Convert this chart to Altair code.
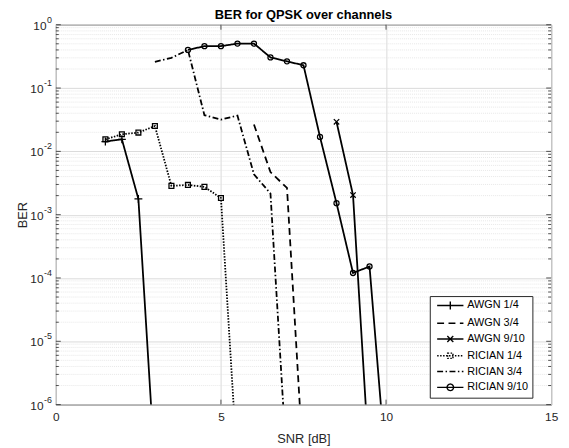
import math
import altair as alt
import pandas as pd

# ---------------- data ----------------
series_names = ["AWGN 1/4", "AWGN 3/4", "AWGN 9/10", "RICIAN 1/4", "RICIAN 3/4", "RICIAN 9/10"]

awgn14_snr = [1.5, 2.0, 2.5, 3.0]
awgn14_ber = [0.0143, 0.0155, 0.00177, 1e-7]

awgn34_snr = [6.0, 6.5, 7.0, 7.5]
awgn34_ber = [0.0266, 0.0047, 0.00265, 1e-7]

awgn910_snr = [8.5, 9.0, 9.5]
awgn910_ber = [0.0293, 0.00204, 1e-7]

rician14_snr = [1.5, 2.0, 2.5, 3.0, 3.5, 4.0, 4.5, 5.0, 5.5]
rician14_ber = [0.0155, 0.0186, 0.0198, 0.0251, 0.00285, 0.00295, 0.00275, 0.00183, 1e-7]

rician34_snr = [3.0, 3.5, 4.0, 4.5, 5.0, 5.5, 6.0, 6.5, 7.0]
rician34_ber = [0.26, 0.30, 0.40, 0.0373, 0.0318, 0.0367, 0.00434, 0.00216, 1e-7]

rician910_snr = [4.0, 4.5, 5.0, 5.5, 6.0, 6.5, 7.0, 7.5, 8.0, 8.5, 9.0, 9.5, 10.0]
rician910_ber = [0.40, 0.459, 0.459, 0.504, 0.504, 0.305, 0.264, 0.229, 0.0169, 0.00152, 1.2e-4, 1.52e-4, 1e-7]

x_ticks = [0, 5, 10, 15]
y_ticks = [1, 1e-1, 1e-2, 1e-3, 1e-4, 1e-5, 1e-6]
y_exponents = ["0", "-1", "-2", "-3", "-4", "-5", "-6"]
y_minor = [k * 10.0 ** d for d in range(-6, 0) for k in range(2, 10)]
x_inner_ticks = [5, 10]

# ---------------- styles ----------------
W, H = 502, 385
FONT = "Liberation Sans"
AX = "#262626"

dash_range = [[1, 0], [7, 4.5], [1, 0], [1.5, 1.5], [6, 2.5, 1.5, 2.5], [1, 0]]


def f(v):
    return f"{v:.2f}"


# legend symbols: line sample + marker (custom paths, 3 px per path unit at size 36)
L0, L1, C = -0.67, 8.2, 3.77
line_path = f"M{f(L0)},0L{f(L1)},0"
circ = "M" + "L".join(
    f"{f(C + 1.1 * math.cos(2 * math.pi * i / 16))},{f(1.1 * math.sin(2 * math.pi * i / 16))}" for i in range(16)
) + "Z"
legend_paths = [
    line_path + f"M{f(C)},-1.33L{f(C)},1.33",
    line_path,
    line_path + f"M{f(C-1)},-1L{f(C+1)},1M{f(C-1)},1L{f(C+1)},-1",
    line_path + f"M{f(C-0.9)},-0.9L{f(C+0.9)},-0.9L{f(C+0.9)},0.9L{f(C-0.9)},0.9Z",
    line_path,
    line_path + circ,
]

frames = []
for name, xs, ys in zip(
    series_names,
    [awgn14_snr, awgn34_snr, awgn910_snr, rician14_snr, rician34_snr, rician910_snr],
    [awgn14_ber, awgn34_ber, awgn910_ber, rician14_ber, rician34_ber, rician910_ber],
):
    frames.append(pd.DataFrame({"series": name, "snr": xs, "ber": ys}))
df = pd.concat(frames, ignore_index=True)

xscale = alt.Scale(domain=[0, 15], nice=False)
yscale = alt.Scale(type="log", domain=[1e-6, 1], nice=False)

x_axis = alt.Axis(values=x_ticks, title="SNR [dB]", grid=True, labelPadding=7, titlePadding=10,
                  format="d", labelFlush=False)
y_axis = alt.Axis(values=y_ticks, title="BER", grid=True, labels=False, titlePadding=27)

X = alt.X("snr:Q", scale=xscale, axis=x_axis)
Y = alt.Y("ber:Q", scale=yscale, axis=y_axis)

minor_df = pd.DataFrame({"ber": y_minor})
major_df = pd.DataFrame({"ber": y_ticks, "exp": y_exponents})
xt_df = pd.DataFrame({"snr": x_inner_ticks})

minor_grid = alt.Chart(minor_df).mark_rule(color="#e2e2e2", strokeWidth=0.8, strokeDash=[1, 1]).encode(y=Y)

tick_layers = [
    alt.Chart(minor_df).mark_rule(color=AX, strokeWidth=0.8).encode(y=Y, x=alt.value(0), x2=alt.value(3)),
    alt.Chart(minor_df).mark_rule(color=AX, strokeWidth=0.8).encode(y=Y, x=alt.value(W), x2=alt.value(W - 3)),
    alt.Chart(major_df).mark_rule(color=AX, strokeWidth=0.8).encode(y=Y, x=alt.value(0), x2=alt.value(5)),
    alt.Chart(major_df).mark_rule(color=AX, strokeWidth=0.8).encode(y=Y, x=alt.value(W), x2=alt.value(W - 5)),
    alt.Chart(xt_df).mark_rule(color=AX, strokeWidth=0.8).encode(x=X, y=alt.value(H), y2=alt.value(H - 5)),
    alt.Chart(xt_df).mark_rule(color=AX, strokeWidth=0.8).encode(x=X, y=alt.value(0), y2=alt.value(5)),
]

# y tick labels "10" with a raised exponent
exp_labels = alt.Chart(major_df).mark_text(
    font=FONT, fontSize=9, color=AX, align="right", baseline="middle", dy=-5
).encode(y=Y, x=alt.value(-4), text="exp:N")
ten_zero = alt.Chart(major_df).transform_filter(alt.datum.exp == "0").mark_text(
    font=FONT, fontSize=12, color=AX, align="right", baseline="middle", dy=1
).encode(y=Y, x=alt.value(-9.5), text=alt.value("10"))
ten_neg = alt.Chart(major_df).transform_filter(alt.datum.exp != "0").mark_text(
    font=FONT, fontSize=12, color=AX, align="right", baseline="middle", dy=1
).encode(y=Y, x=alt.value(-12.5), text=alt.value("10"))

# one line layer per series, each with its own dash pattern
line_layers = [
    alt.Chart(df).transform_filter(alt.datum.series == name)
    .mark_line(color="black", strokeWidth=1.8, clip=True, strokeDash=dash)
    .encode(x=X, y=Y, order="snr:Q")
    for name, dash in zip(series_names, dash_range)
]

marker_specs = [
    ("AWGN 1/4", "M-1,0L1,0M0,-1L0,1", 64),
    ("AWGN 9/10", "M-1,-1L1,1M-1,1L1,-1", 30),
    ("RICIAN 1/4", "square", 24),
    ("RICIAN 9/10", "circle", 26),
]
marker_layers = [
    alt.Chart(df).transform_filter(alt.datum.series == name)
    .mark_point(shape=shape, size=size, filled=False, color="black", strokeWidth=1.3, opacity=1, clip=True)
    .encode(x=X, y=Y)
    for name, shape, size in marker_specs
]

leg = alt.Legend(
    title=None, orient="none", legendX=379, legendY=275,
    padding=4, strokeColor=AX, fillColor="white", cornerRadius=0,
    labelFont=FONT, labelFontSize=11, labelColor="black", labelOffset=23,
    rowPadding=4, symbolSize=36, symbolStrokeWidth=1.4, symbolStrokeColor="black",
    symbolFillColor="transparent",
)

dash_scale = alt.Scale(domain=series_names, range=dash_range)

# legend carrier: only the off-scale points (clipped away), so only the legend shows
legend_layer = alt.Chart(df).transform_filter(alt.datum.ber < 1e-6).mark_point(
    filled=False, color="black", strokeWidth=1.4, size=36, opacity=1, clip=True
).encode(
    x=X,
    y=Y,
    shape=alt.Shape("series:N", scale=alt.Scale(domain=series_names, range=legend_paths), legend=leg),
    strokeDash=alt.StrokeDash("series:N", scale=dash_scale, legend=leg),
)

chart = alt.layer(
    minor_grid, *tick_layers, exp_labels, ten_zero, ten_neg, *line_layers, *marker_layers, legend_layer
).properties(
    width=W, height=H,
    title=alt.TitleParams("BER for QPSK over channels", fontSize=13, fontWeight="bold", font=FONT,
                          color="black", offset=4, dy=10, anchor="middle"),
    autosize=alt.AutoSizeParams(type="none"),
    padding={"left": 48.5, "top": 14, "right": 10, "bottom": 40},
).configure_view(
    stroke=AX, strokeWidth=1
).configure_axis(
    domain=False, ticks=False, tickSize=0,
    labelFont=FONT, labelFontSize=12, labelColor=AX,
    titleFont=FONT, titleFontSize=13, titleFontWeight="normal", titleColor=AX,
    gridColor="#dadada", gridWidth=1,
)

chart.save("out.html", embed_options={"renderer": "svg", "actions": False})
